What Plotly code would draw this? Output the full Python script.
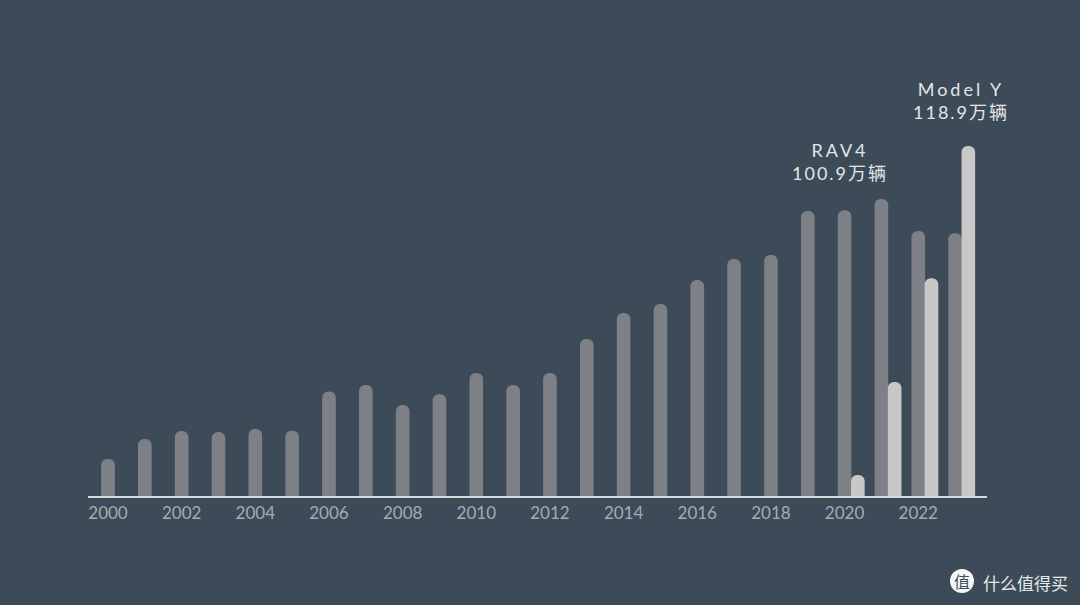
import plotly.graph_objects as go

# Annual best-seller volumes, in units of 10,000 vehicles
years = list(range(2000, 2024))
leader_sales = [12.6, 19.4, 22.1, 21.7, 22.8, 22.2, 35.5, 37.7, 30.9, 34.6, 41.8, 37.7,
                41.8, 53.3, 62.2, 65.2, 73.4, 80.5, 81.9, 96.8, 97.1, 100.9, 90.0, 89.3]
model_y_years = [2020, 2021, 2022, 2023]
model_y_sales = [7.1, 38.7, 74.0, 118.9]
tick_years = list(range(2000, 2023, 2))

BG = "#3d4b58"
GREY = "#7d8187"
LIGHT = "#c9c8c8"
BAR_W = 0.37
FONT = "Lato, 'Noto Sans CJK SC', sans-serif"
CJK = "'Noto Sans CJK SC', sans-serif"

# Plot area in page pixels; annotations and shapes are placed relative to it
LEFT, RIGHT, BOTTOM = 88, 987, 496


def paper_x(px):
    return (px - LEFT) / (RIGHT - LEFT)


def paper_y(py):
    return 1 - py / BOTTOM


def centered_note(px, py, text, font, align="center"):
    fig.add_annotation(x=paper_x(px), y=paper_y(py), xref="paper", yref="paper",
                       xanchor="center", yanchor="middle", text=text,
                       showarrow=False, align=align, font=font)


fig = go.Figure()
fig.add_bar(x=years, y=leader_sales, width=BAR_W,
            marker=dict(color=GREY, cornerradius=7, line_width=0))
fig.add_bar(x=[y + 0.36 for y in model_y_years], y=model_y_sales, width=BAR_W,
            marker=dict(color=LIGHT, cornerradius=7, line_width=0))

# Callouts above the record-setting bars
rav4_value = leader_sales[years.index(2021)]
model_y_value = model_y_sales[-1]
callouts = [(840, 161, "RAV4", rav4_value), (961, 100, "Model Y", model_y_value)]
for px, py, name, value in callouts:
    centered_note(px, py, f"{name}<br>{value}万辆",
                  dict(family=FONT, size=18, color="#e3e6e8"))

# Site mark in the lower right corner
fig.add_shape(type="circle", xref="paper", yref="paper", line_width=0, fillcolor="#f7f7f7",
              x0=paper_x(950), x1=paper_x(974), y0=paper_y(593), y1=paper_y(569))
centered_note(962, 581, "值", dict(family=CJK, size=16, color="#3d4b58"))
centered_note(1025, 582, "什么值得买", dict(family=CJK, size=17, color="#e6e8ea"))

fig.update_layout(
    width=1080, height=605,
    margin=dict(l=LEFT, r=1080 - RIGHT, t=0, b=605 - BOTTOM, autoexpand=False),
    paper_bgcolor=BG, plot_bgcolor=BG,
    barmode="overlay", showlegend=False,
    xaxis=dict(range=[1999.457, 2023.867], tickvals=tick_years, showgrid=False, zeroline=False,
               showline=True, linecolor="#d5d9dc", linewidth=2, ticks="", ticklabelstandoff=1,
               tickfont=dict(family=FONT, size=17, color="#a6abb0")),
    yaxis=dict(range=[0, 168.5], visible=False),
)

# Wider tracking on the two callout labels
tracking = """
document.querySelectorAll('.annotation-text').forEach(function (t) {
  if (t.textContent.indexOf('万') < 0) return;
  var lines = t.querySelectorAll('tspan.line');
  if (lines.length === 2) {
    lines[0].style.letterSpacing = '3px';
    lines[1].style.letterSpacing = '2px';
  }
});
"""
fig.write_html("out.html", post_script=tracking)
